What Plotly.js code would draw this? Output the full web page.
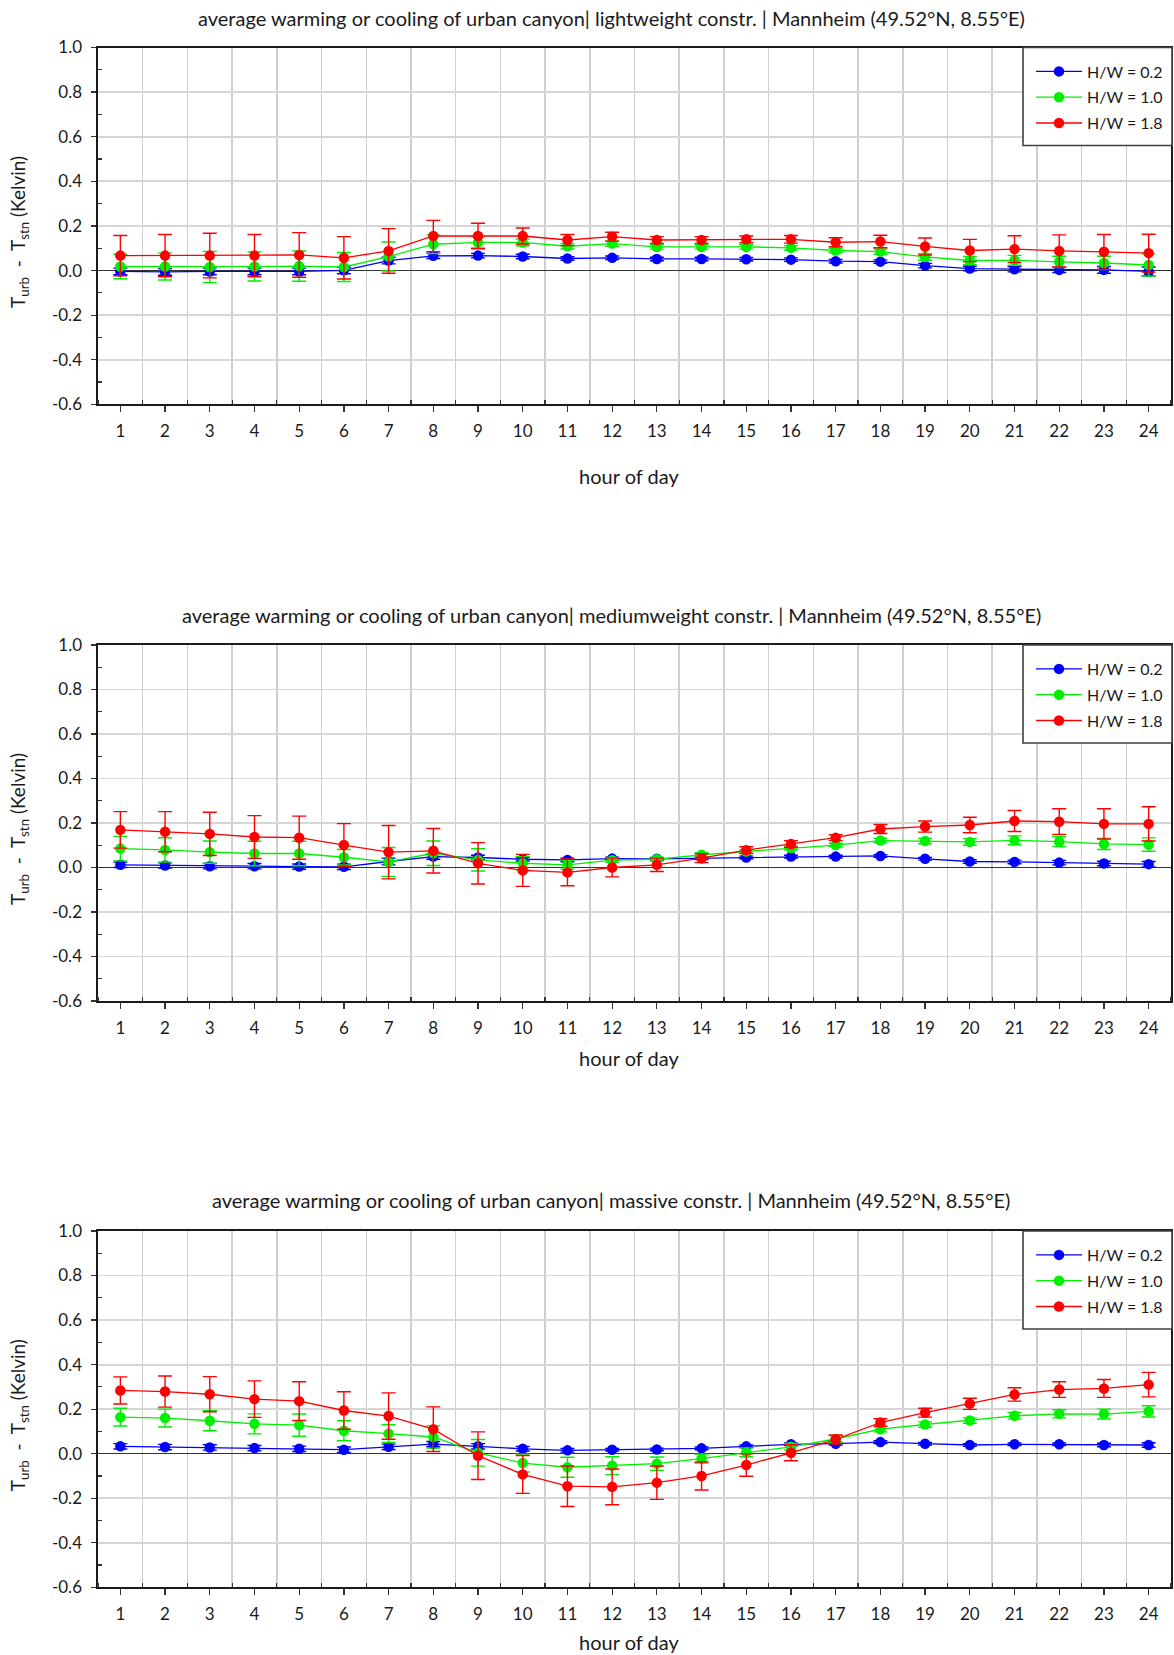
<!DOCTYPE html>
<html>
<head>
<meta charset="utf-8">
<script src="https://cdn.plot.ly/plotly-3.0.1.min.js"></script>
<style>
  html, body { margin: 0; padding: 0; background: #ffffff; }
  #chart { width: 1174px; height: 1655px; }
</style>
</head>
<body>
<div id="chart"></div>
<script>
// Hour of day (x categories)
const hours = [1, 2, 3, 4, 5, 6, 7, 8, 9, 10, 11, 12, 13, 14, 15, 16, 17, 18, 19, 20, 21, 22, 23, 24];
const yTicks = [-0.6, -0.4, -0.2, 0.0, 0.2, 0.4, 0.6, 0.8, 1.0];

const seriesNames = ['H/W = 0.2', 'H/W = 1.0', 'H/W = 1.8'];
const seriesColors = ['#0000ff', '#00f000', '#ff0000'];
const constructionNames = ['lightweight', 'mediumweight', 'massive'];

// Lightweight construction: T_urb - T_stn (K) and error
const lightHW02 = [-0.004, -0.006, -0.004, -0.004, -0.004, 0.001, 0.045, 0.066, 0.067, 0.063, 0.054, 0.057, 0.052, 0.052, 0.051, 0.049, 0.042, 0.040, 0.022, 0.009, 0.006, 0.003, 0.003, -0.004];
const lightHW02Err = [0.015, 0.015, 0.015, 0.015, 0.015, 0.015, 0.015, 0.012, 0.010, 0.010, 0.008, 0.008, 0.008, 0.008, 0.008, 0.008, 0.008, 0.008, 0.010, 0.010, 0.012, 0.012, 0.015, 0.020];
const lightHW10 = [0.018, 0.018, 0.016, 0.018, 0.020, 0.016, 0.063, 0.118, 0.126, 0.126, 0.109, 0.121, 0.106, 0.106, 0.106, 0.102, 0.090, 0.085, 0.061, 0.045, 0.046, 0.039, 0.034, 0.025];
const lightHW10Err = [0.055, 0.060, 0.070, 0.065, 0.068, 0.065, 0.065, 0.042, 0.025, 0.015, 0.012, 0.012, 0.010, 0.010, 0.010, 0.010, 0.010, 0.012, 0.015, 0.018, 0.022, 0.025, 0.030, 0.050];
const lightHW18 = [0.067, 0.067, 0.067, 0.067, 0.070, 0.057, 0.088, 0.155, 0.155, 0.155, 0.137, 0.152, 0.137, 0.137, 0.140, 0.140, 0.127, 0.130, 0.108, 0.090, 0.096, 0.088, 0.084, 0.078];
const lightHW18Err = [0.090, 0.095, 0.100, 0.095, 0.100, 0.095, 0.100, 0.070, 0.057, 0.036, 0.025, 0.020, 0.015, 0.015, 0.015, 0.017, 0.020, 0.028, 0.038, 0.050, 0.060, 0.072, 0.078, 0.085];

// Mediumweight construction
const mediumHW02 = [0.012, 0.009, 0.006, 0.006, 0.004, 0.003, 0.027, 0.049, 0.045, 0.037, 0.034, 0.040, 0.039, 0.042, 0.045, 0.049, 0.049, 0.052, 0.039, 0.027, 0.025, 0.022, 0.018, 0.015];
const mediumHW02Err = [0.012, 0.012, 0.012, 0.012, 0.012, 0.012, 0.015, 0.012, 0.010, 0.008, 0.008, 0.006, 0.006, 0.006, 0.006, 0.006, 0.006, 0.006, 0.006, 0.008, 0.008, 0.010, 0.010, 0.012];
const mediumHW10 = [0.085, 0.079, 0.069, 0.063, 0.063, 0.046, 0.025, 0.064, 0.034, 0.019, 0.012, 0.033, 0.037, 0.057, 0.072, 0.088, 0.101, 0.121, 0.119, 0.115, 0.122, 0.116, 0.106, 0.103];
const mediumHW10Err = [0.055, 0.055, 0.050, 0.055, 0.055, 0.035, 0.065, 0.055, 0.050, 0.030, 0.020, 0.010, 0.008, 0.008, 0.008, 0.008, 0.008, 0.010, 0.012, 0.015, 0.020, 0.022, 0.025, 0.030];
const mediumHW18 = [0.169, 0.161, 0.151, 0.137, 0.134, 0.101, 0.069, 0.075, 0.019, -0.013, -0.022, 0.000, 0.012, 0.042, 0.078, 0.106, 0.134, 0.173, 0.184, 0.191, 0.209, 0.206, 0.196, 0.196];
const mediumHW18Err = [0.082, 0.090, 0.097, 0.096, 0.097, 0.096, 0.120, 0.100, 0.093, 0.072, 0.060, 0.042, 0.030, 0.020, 0.015, 0.015, 0.013, 0.020, 0.025, 0.035, 0.047, 0.058, 0.068, 0.077];

// Massive construction
const massiveHW02 = [0.033, 0.030, 0.028, 0.025, 0.022, 0.018, 0.031, 0.043, 0.033, 0.022, 0.015, 0.018, 0.019, 0.024, 0.033, 0.042, 0.045, 0.052, 0.045, 0.039, 0.042, 0.042, 0.039, 0.039];
const massiveHW02Err = [0.012, 0.012, 0.012, 0.012, 0.012, 0.012, 0.012, 0.012, 0.012, 0.010, 0.008, 0.006, 0.006, 0.006, 0.006, 0.006, 0.006, 0.006, 0.006, 0.006, 0.006, 0.006, 0.008, 0.010];
const massiveHW10 = [0.164, 0.160, 0.148, 0.134, 0.128, 0.103, 0.090, 0.075, 0.004, -0.042, -0.061, -0.054, -0.045, -0.022, 0.006, 0.031, 0.066, 0.110, 0.131, 0.149, 0.170, 0.179, 0.178, 0.190];
const massiveHW10Err = [0.040, 0.040, 0.045, 0.045, 0.050, 0.045, 0.040, 0.050, 0.060, 0.040, 0.045, 0.040, 0.030, 0.020, 0.020, 0.015, 0.015, 0.012, 0.012, 0.012, 0.015, 0.018, 0.022, 0.025];
const massiveHW18 = [0.284, 0.279, 0.267, 0.245, 0.236, 0.194, 0.169, 0.110, -0.009, -0.093, -0.146, -0.149, -0.130, -0.100, -0.051, 0.004, 0.064, 0.140, 0.184, 0.224, 0.266, 0.288, 0.293, 0.310];
const massiveHW18Err = [0.061, 0.070, 0.079, 0.082, 0.087, 0.084, 0.104, 0.100, 0.107, 0.085, 0.091, 0.080, 0.075, 0.063, 0.050, 0.036, 0.020, 0.017, 0.020, 0.025, 0.030, 0.035, 0.040, 0.055];

const panelValues = [
  [lightHW02, lightHW10, lightHW18],
  [mediumHW02, mediumHW10, mediumHW18],
  [massiveHW02, massiveHW10, massiveHW18]
];
const panelErrors = [
  [lightHW02Err, lightHW10Err, lightHW18Err],
  [mediumHW02Err, mediumHW10Err, mediumHW18Err],
  [massiveHW02Err, massiveHW10Err, massiveHW18Err]
];

// ---- page geometry (pixels) ----
const W = 1174, H = 1655;
const FONT = 'Lato, "Open Sans", sans-serif';
const TXT = '#1a1a1a';
const plotLeft = 98, plotRight = 1171;
const panels = [
  { top: 47.5, bottom: 404.4, titleY: 18, xTitleY: 476 },
  { top: 645, bottom: 1001, titleY: 615, xTitleY: 1058 },
  { top: 1231, bottom: 1587.3, titleY: 1200, xTitleY: 1642 }
];
const legendBox = { left: 1023, right: 1172, height: 98 };
const px = p => p / W;
const py = p => 1 - p / H;

const traces = [];
const layout = {
  width: W, height: H,
  margin: { l: 0, r: 0, t: 0, b: 0 },
  paper_bgcolor: '#ffffff', plot_bgcolor: '#ffffff',
  font: { family: FONT, color: TXT, size: 17 },
  showlegend: true,
  annotations: [],
  shapes: []
};

panels.forEach((p, i) => {
  const n = i + 1;
  const sx = n === 1 ? '' : String(n);
  const xa = 'x' + sx, ya = 'y' + sx;
  const legendId = n === 1 ? 'legend' : 'legend' + n;

  // data series with error bars
  for (let s = 0; s < 3; s++) {
    traces.push({
      type: 'scatter', mode: 'lines+markers',
      name: seriesNames[s], legendgroup: 'g' + n + '_' + s,
      x: hours, y: panelValues[i][s],
      xaxis: xa, yaxis: ya, legend: legendId,
      line: { color: seriesColors[s], width: 1.3 },
      marker: { color: seriesColors[s], size: 10.5 },
      error_y: { type: 'data', array: panelErrors[i][s], visible: true,
                 color: seriesColors[s], thickness: 1.4, width: 7 },
      cliponaxis: false
    });
  }

  const yDom = [py(p.bottom), py(p.top)];
  const xDom = [px(plotLeft), px(plotRight)];

  layout['xaxis' + sx] = {
    domain: xDom, anchor: ya, range: [0.5, 24.5],
    tickmode: 'array', tickvals: hours, ticktext: hours.map(String),
    ticks: 'outside', ticklen: 6, tickwidth: 1.3, tickcolor: '#333',
    showgrid: false, zeroline: false,
    showline: true, linecolor: '#1a1a1a', linewidth: 1.6, mirror: true,
    tickfont: { family: FONT, size: 17, color: TXT },
    ticklabelstandoff: 5,
    minor: { tickmode: 'linear', tick0: 0.5, dtick: 1, showgrid: true,
             gridcolor: '#cfcfcf', gridwidth: 1.5,
             ticks: 'inside', ticklen: 4, tickcolor: '#333', tickwidth: 1.2 },
    fixedrange: true
  };
  layout['yaxis' + sx] = {
    domain: yDom, anchor: xa, range: [-0.6, 1.0],
    tickmode: 'array', tickvals: yTicks, ticktext: yTicks.map(v => v.toFixed(1)),
    ticks: 'outside', ticklen: 5, tickwidth: 1.3, tickcolor: '#333',
    showgrid: true, gridcolor: '#d6d6d6', gridwidth: 1.8,
    zeroline: true, zerolinecolor: '#333', zerolinewidth: 1.4,
    showline: true, linecolor: '#1a1a1a', linewidth: 1.6, mirror: true,
    tickfont: { family: FONT, size: 17, color: TXT },
    ticklabelstandoff: 6,
    minor: { tickmode: 'linear', tick0: 0.1, dtick: 0.2, showgrid: false,
             ticks: 'inside', ticklen: 4, tickcolor: '#333', tickwidth: 1.2 },
    fixedrange: true
  };
  // mirrored minor ticks along the top and right frame edges
  layout['xaxis' + (n + 3)] = {
    domain: xDom, anchor: ya, overlaying: xa, side: 'top', range: [0.5, 24.5],
    showticklabels: false, ticks: '', showgrid: false, zeroline: false, showline: false,
    minor: { tickmode: 'linear', tick0: 0.5, dtick: 1, ticks: 'inside', ticklen: 4,
             tickcolor: '#333', tickwidth: 1.2, showgrid: false },
    fixedrange: true
  };
  layout['yaxis' + (n + 3)] = {
    domain: yDom, anchor: xa, overlaying: ya, side: 'right', range: [-0.6, 1.0],
    showticklabels: false, ticks: '', showgrid: false, zeroline: false, showline: false,
    minor: { tickmode: 'linear', tick0: 0.1, dtick: 0.2, ticks: 'inside', ticklen: 4,
             tickcolor: '#333', tickwidth: 1.2, showgrid: false },
    fixedrange: true
  };

  // legend frame
  layout.shapes.push({
    type: 'rect', xref: 'paper', yref: 'paper', layer: 'above',
    x0: px(legendBox.left), x1: px(legendBox.right),
    y0: py(p.top + legendBox.height), y1: py(p.top),
    line: { color: '#404040', width: 1.6 }, fillcolor: '#ffffff'
  });
  layout[legendId] = {
    x: px(1031), xanchor: 'left', y: py(p.top + 7), yanchor: 'top',
    bgcolor: 'rgba(0,0,0,0)', borderwidth: 0,
    font: { family: FONT, size: 16, color: TXT },
    itemwidth: 46, tracegroupgap: 2
  };

  layout.annotations.push({
    xref: 'paper', yref: 'paper', x: px(611), y: py(p.titleY),
    xanchor: 'center', yanchor: 'middle', showarrow: false,
    text: 'average warming or cooling of urban canyon| ' + constructionNames[i] +
          ' constr. | Mannheim (49.52°N, 8.55°E)',
    font: { family: FONT, size: 20, color: TXT }
  });
  layout.annotations.push({
    xref: 'paper', yref: 'paper', x: px(629), y: py(p.xTitleY),
    xanchor: 'center', yanchor: 'middle', showarrow: false,
    text: 'hour of day',
    font: { family: FONT, size: 20, color: TXT }
  });
  layout.annotations.push({
    xref: 'paper', yref: 'paper', x: px(19), y: py((p.top + p.bottom) / 2 + 6),
    xanchor: 'center', yanchor: 'middle', showarrow: false, textangle: -90,
    text: 'T<sub>urb</sub>  -  T<sub>stn</sub> (Kelvin)',
    font: { family: FONT, size: 19, color: TXT }
  });
});

Plotly.newPlot('chart', traces, layout, { staticPlot: true, displayModeBar: false });
</script>
</body>
</html>
